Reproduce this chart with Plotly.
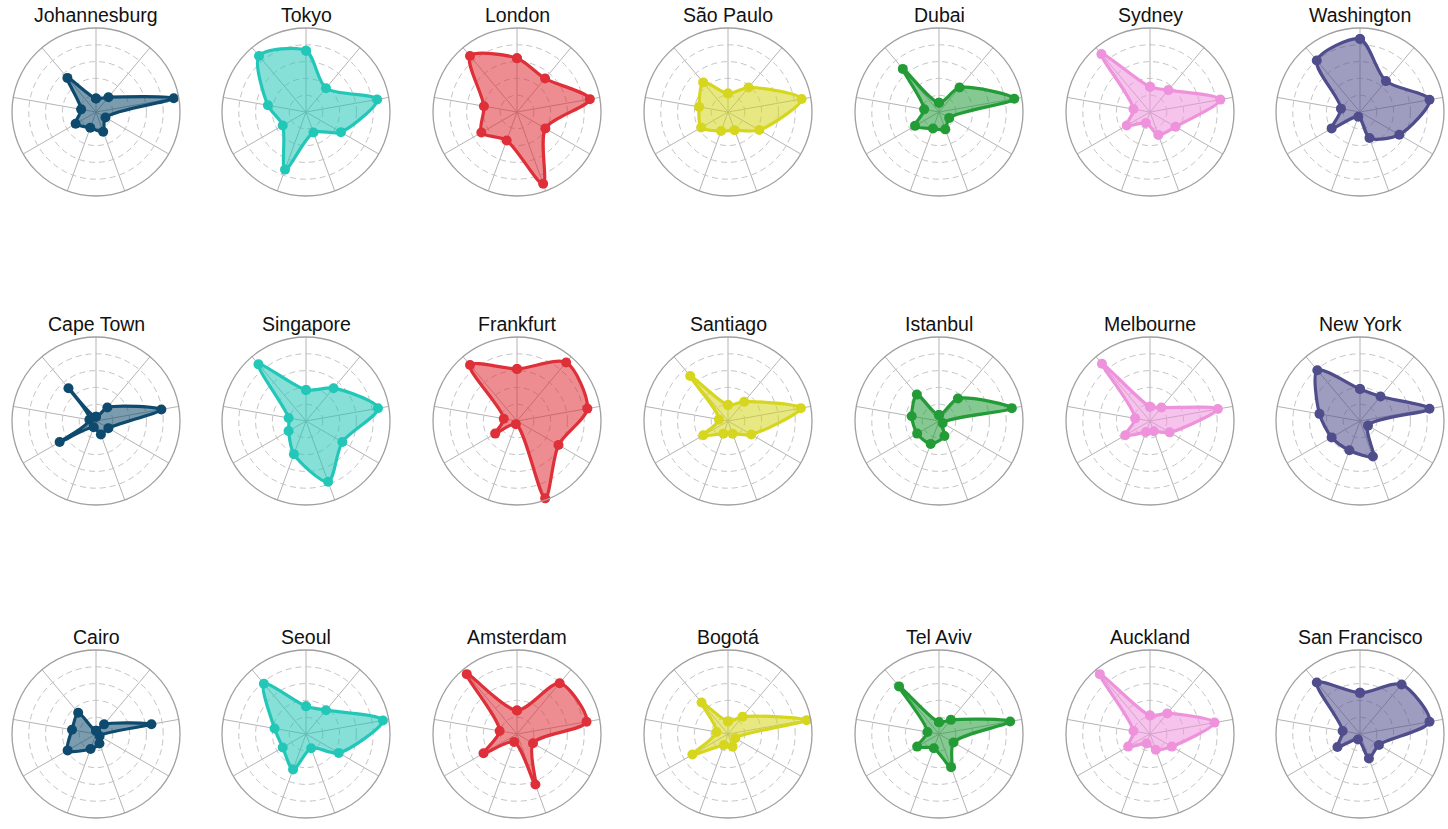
import plotly.graph_objects as go

metrics = ["M1", "M2", "M3", "M4", "M5", "M6", "M7", "M8", "M9"]

cities = [
    "Johannesburg", "Tokyo", "London", "São Paulo", "Dubai", "Sydney", "Washington",
    "Cape Town", "Singapore", "Frankfurt", "Santiago", "Istanbul", "Melbourne", "New York",
    "Cairo", "Seoul", "Amsterdam", "Bogotá", "Tel Aviv", "Auckland", "San Francisco",
]

johannesburg = [0.16, 0.23, 0.94, 0.13, 0.25, 0.20, 0.28, 0.18, 0.53]
tokyo = [0.73, 0.37, 0.86, 0.48, 0.26, 0.73, 0.32, 0.46, 0.87]
london = [0.64, 0.52, 0.88, 0.39, 0.91, 0.36, 0.49, 0.40, 0.87]
sao_paulo = [0.22, 0.38, 0.89, 0.43, 0.23, 0.24, 0.37, 0.35, 0.46]
dubai = [0.11, 0.38, 0.91, 0.14, 0.22, 0.21, 0.33, 0.18, 0.67]
sydney = [0.30, 0.34, 0.85, 0.35, 0.29, 0.14, 0.32, 0.20, 0.90]
washington = [0.87, 0.48, 0.84, 0.54, 0.33, 0.06, 0.39, 0.23, 0.80]

cape_town = [0.05, 0.21, 0.79, 0.17, 0.17, 0.08, 0.50, 0.08, 0.51]
singapore = [0.37, 0.51, 0.87, 0.50, 0.77, 0.42, 0.24, 0.21, 0.88]
frankfurt = [0.62, 0.91, 0.85, 0.57, 0.98, 0.04, 0.30, 0.16, 0.87]
santiago = [0.19, 0.30, 0.88, 0.32, 0.16, 0.16, 0.34, 0.11, 0.70]
istanbul = [0.07, 0.35, 0.88, 0.05, 0.19, 0.29, 0.30, 0.33, 0.41]
melbourne = [0.17, 0.21, 0.82, 0.27, 0.13, 0.14, 0.34, 0.18, 0.89]
new_york = [0.38, 0.38, 0.84, 0.11, 0.45, 0.37, 0.39, 0.49, 0.79]

cairo = [0.04, 0.15, 0.67, 0.05, 0.12, 0.19, 0.39, 0.29, 0.33]
seoul = [0.33, 0.37, 0.93, 0.45, 0.18, 0.45, 0.32, 0.38, 0.78]
amsterdam = [0.28, 0.79, 0.84, 0.22, 0.64, 0.10, 0.46, 0.21, 0.93]
bogota = [0.15, 0.27, 0.95, 0.10, 0.16, 0.14, 0.49, 0.14, 0.49]
tel_aviv = [0.14, 0.22, 0.86, 0.20, 0.42, 0.18, 0.30, 0.14, 0.74]
auckland = [0.22, 0.32, 0.78, 0.30, 0.20, 0.12, 0.30, 0.20, 0.93]
san_francisco = [0.49, 0.77, 0.84, 0.26, 0.31, 0.07, 0.31, 0.21, 0.80]

city_values = [
    johannesburg, tokyo, london, sao_paulo, dubai, sydney, washington,
    cape_town, singapore, frankfurt, santiago, istanbul, melbourne, new_york,
    cairo, seoul, amsterdam, bogota, tel_aviv, auckland, san_francisco,
]

column_colors = ["#0e4a6e", "#22c7b8", "#df2f38", "#d6d61e", "#239b37", "#ee92dc", "#4f4d8c"]

W, H = 1448, 829
col_cx = [96, 306, 517, 728, 939, 1150, 1360]
row_cy = [112, 421, 734]
R = 84


def rgba(hex_color, a):
    c = hex_color.lstrip("#")
    return f"rgba({int(c[0:2], 16)},{int(c[2:4], 16)},{int(c[4:6], 16)},{a})"


fig = go.Figure()
annotations = []
layout_polars = {}

for i, (name, vals) in enumerate(zip(cities, city_values)):
    row, col = divmod(i, 7)
    color = column_colors[col]
    pname = "polar" if i == 0 else f"polar{i+1}"
    cx, cy = col_cx[col], row_cy[row]
    layout_polars[pname] = dict(
        domain=dict(x=[(cx - R) / W, (cx + R) / W], y=[1 - (cy + R) / H, 1 - (cy - R) / H]),
        bgcolor="white",
        radialaxis=dict(range=[0, 1], tickvals=[0.2, 0.4, 0.6, 0.8], showticklabels=False,
                        ticks="", showline=False, gridcolor="#c4c4c4", griddash="6px,4px",
                        gridwidth=1.3),
        angularaxis=dict(rotation=90, direction="clockwise", showticklabels=False, ticks="",
                         showline=True, linecolor="#a0a0a0", linewidth=1.3,
                         gridcolor="#b4b4b4", gridwidth=1.3,
                         categoryorder="array", categoryarray=metrics),
    )
    fig.add_trace(go.Scatterpolar(
        r=vals + vals[:1],
        theta=metrics + metrics[:1],
        subplot=pname,
        mode="lines+markers",
        fill="toself",
        fillcolor=rgba(color, 0.55),
        line=dict(color=color, width=3.2, shape="spline", smoothing=0.8),
        marker=dict(color=color, size=10),
        showlegend=False,
        name=name,
    ))
    annotations.append(dict(
        text=name, x=cx / W, y=1 - (cy - 97) / H, xref="paper", yref="paper",
        xanchor="center", yanchor="middle", showarrow=False,
        font=dict(family="Liberation Sans, Arial, sans-serif", size=19.5, color="#111111"),
    ))

fig.update_layout(**layout_polars)
fig.update_layout(
    width=W, height=H, margin=dict(l=0, r=0, t=0, b=0),
    paper_bgcolor="white", plot_bgcolor="white",
    annotations=annotations, showlegend=False,
)

fig.write_html("out.html", config={"displayModeBar": False},
               post_script="document.body.style.margin='0';document.body.style.overflow='hidden';")
